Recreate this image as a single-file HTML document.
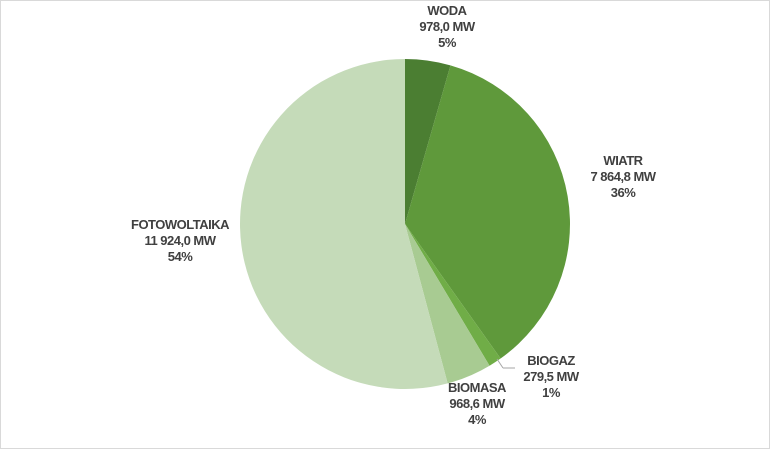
<!DOCTYPE html>
<html><head><meta charset="utf-8"><style>
body{margin:0;background:#fff}
svg text{font-family:"Liberation Sans",Arial,sans-serif;font-weight:bold;font-size:13px;fill:#404040;text-anchor:middle;letter-spacing:-0.5px}
</style></head><body>
<svg id="chart" width="770" height="449" xmlns="http://www.w3.org/2000/svg">
<rect x="0.5" y="0.5" width="769" height="448" fill="#fff" stroke="#d9d9d9"/>
<g id="slices"></g>
<line x1="497" y1="359" x2="503" y2="368" stroke="#a6a6a6"/>
<line x1="503" y1="368" x2="515" y2="368" stroke="#a6a6a6"/>
<g id="labels"></g>
</svg>
<script>
const categories=["WODA","WIATR","BIOGAZ","BIOMASA","FOTOWOLTAIKA"];
const values=[978.0,7864.8,279.5,968.6,11924.0];
const valueLabels=["978,0 MW","7 864,8 MW","279,5 MW","968,6 MW","11 924,0 MW"];
const pctLabels=["5%","36%","1%","4%","54%"];
const colors=["#4b7e32","#5f993b","#70ad47","#a8cb92","#c5dbb9"];
const labelPos=[[447,15],[623,165],[551,365],[477,392],[180,229]];
const cx=405,cy=224,r=165;
const total=values.reduce((a,b)=>a+b,0);
const ns="http://www.w3.org/2000/svg";
const sg=document.getElementById('slices'),lg=document.getElementById('labels');
let a0=0;
values.forEach((v,i)=>{
  const a1=a0+v/total*2*Math.PI;
  const p=(a)=>[cx+r*Math.sin(a),cy-r*Math.cos(a)];
  const [x0,y0]=p(a0),[x1,y1]=p(a1);
  const path=document.createElementNS(ns,'path');
  path.setAttribute('d',`M${cx},${cy}L${x0},${y0}A${r},${r} 0 ${a1-a0>Math.PI?1:0} 1 ${x1},${y1}Z`);
  path.setAttribute('fill',colors[i]);
  
  
  sg.appendChild(path);
  const t=document.createElementNS(ns,'text');
  
  
  [categories[i],valueLabels[i],pctLabels[i]].forEach((s,k)=>{
    const ts=document.createElementNS(ns,'tspan');
    ts.setAttribute('x',labelPos[i][0]);
    ts.setAttribute('y',labelPos[i][1]+k*16);
    ts.textContent=s;
    t.appendChild(ts);
  });
  lg.appendChild(t);
  a0=a1;
});
</script>
</body></html>
